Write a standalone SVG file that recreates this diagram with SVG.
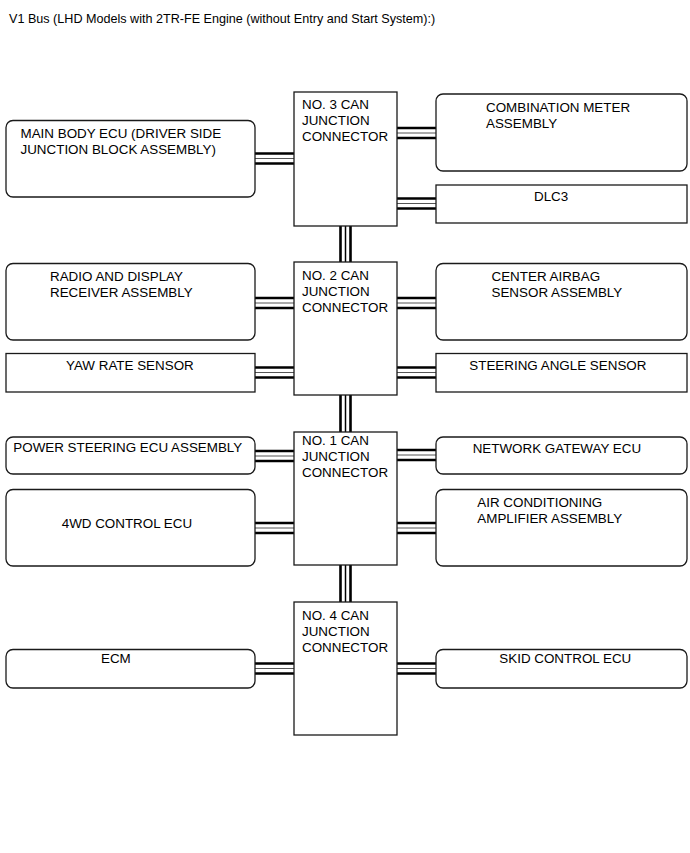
<svg xmlns="http://www.w3.org/2000/svg" width="690" height="853" viewBox="0 0 690 853">
<style>
text{font-family:"Liberation Sans",Arial,sans-serif;font-size:13.4px;fill:#000}
text.title{font-size:12.6px}
.r{fill:#fff;stroke:#1a1a1a;stroke-width:1.3}
.j{fill:#fff;stroke:#1a1a1a;stroke-width:1.3}
.o{stroke:#000;stroke-width:2.6;fill:none}
.m{stroke:#555;stroke-width:1;fill:none}
.mv{stroke:#000;stroke-width:1.5;fill:none}
</style>
<rect width="690" height="853" fill="#fff"/>
<text class="title" x="9" y="23">V1 Bus (LHD Models with 2TR-FE Engine (without Entry and Start System):)</text>

<g id="connectors">
  <g>
    <path class="o" d="M255 153.5H294M255 163.5H294"/><path class="m" d="M255 158.5H294"/>
    <path class="o" d="M255 298H294M255 308H294"/><path class="m" d="M255 303H294"/>
    <path class="o" d="M255 367.5H294M255 377.5H294"/><path class="m" d="M255 372.5H294"/>
    <path class="o" d="M255 451H294M255 461H294"/><path class="m" d="M255 456H294"/>
    <path class="o" d="M255 523H294M255 533H294"/><path class="m" d="M255 528H294"/>
    <path class="o" d="M255 663.5H294M255 673.5H294"/><path class="m" d="M255 668.5H294"/>
  </g>
  <g>
    <path class="o" d="M397 128H436M397 138H436"/><path class="m" d="M397 133H436"/>
    <path class="o" d="M397 198.5H436M397 208.5H436"/><path class="m" d="M397 203.5H436"/>
    <path class="o" d="M397 298H436M397 308H436"/><path class="m" d="M397 303H436"/>
    <path class="o" d="M397 367.5H436M397 377.5H436"/><path class="m" d="M397 372.5H436"/>
    <path class="o" d="M397 450H436M397 460H436"/><path class="m" d="M397 455H436"/>
    <path class="o" d="M397 523H436M397 533H436"/><path class="m" d="M397 528H436"/>
    <path class="o" d="M397 663.5H436M397 673.5H436"/><path class="m" d="M397 668.5H436"/>
  </g>
  <g>
    <path class="o" d="M340.5 226V262M350.5 226V262"/><path class="mv" d="M345.5 226V262"/>
    <path class="o" d="M340.5 395V432M350.5 395V432"/><path class="mv" d="M345.5 395V432"/>
    <path class="o" d="M340.5 565V602M350.5 565V602"/><path class="mv" d="M345.5 565V602"/>
  </g>
</g>

<g id="jc3"><rect class="j" x="294" y="92" width="103" height="134"/>
<text x="302" y="108.5">NO. 3 CAN</text><text x="302" y="124.5">JUNCTION</text><text x="302" y="140.5">CONNECTOR</text></g>
<g id="jc2"><rect class="j" x="294" y="262" width="103" height="133"/>
<text x="302" y="279.5">NO. 2 CAN</text><text x="302" y="295.5">JUNCTION</text><text x="302" y="311.5">CONNECTOR</text></g>
<g id="jc1"><rect class="j" x="294" y="432" width="103" height="133"/>
<text x="302" y="445">NO. 1 CAN</text><text x="302" y="461">JUNCTION</text><text x="302" y="477">CONNECTOR</text></g>
<g id="jc4"><rect class="j" x="294" y="602" width="103" height="133"/>
<text x="302" y="620">NO. 4 CAN</text><text x="302" y="636">JUNCTION</text><text x="302" y="652">CONNECTOR</text></g>

<g id="main-body-ecu"><rect class="r" x="6" y="120.5" width="249" height="76.5" rx="7"/>
<text x="20.5" y="137.5">MAIN BODY ECU (DRIVER SIDE</text><text x="20.5" y="153.5">JUNCTION BLOCK ASSEMBLY)</text></g>
<g id="combination-meter"><rect class="r" x="436" y="94" width="251" height="77" rx="7"/>
<text x="486" y="111.5">COMBINATION METER</text><text x="486" y="127.5">ASSEMBLY</text></g>
<g id="dlc3"><rect class="r" x="436" y="185" width="251" height="38"/>
<text x="534" y="200.7">DLC3</text></g>

<g id="radio"><rect class="r" x="6" y="263.5" width="249" height="76.5" rx="7"/>
<text x="50" y="280.5">RADIO AND DISPLAY</text><text x="50" y="296.5">RECEIVER ASSEMBLY</text></g>
<g id="yaw-rate-sensor"><rect class="r" x="6" y="353.5" width="249" height="38.5"/>
<text x="66" y="370">YAW RATE SENSOR</text></g>
<g id="center-airbag"><rect class="r" x="436" y="263.5" width="251" height="76.5" rx="7"/>
<text x="491.5" y="280.5">CENTER AIRBAG</text><text x="491.5" y="296.5">SENSOR ASSEMBLY</text></g>
<g id="steering-angle-sensor"><rect class="r" x="436" y="353.5" width="251" height="38.5"/>
<text x="469.3" y="370">STEERING ANGLE SENSOR</text></g>

<g id="power-steering-ecu"><rect class="r" x="6" y="437" width="249" height="37" rx="7"/>
<text x="13.3" y="451.7">POWER STEERING ECU ASSEMBLY</text></g>
<g id="4wd-control-ecu"><rect class="r" x="6" y="489.5" width="249" height="76.5" rx="7"/>
<text x="61.7" y="528.3">4WD CONTROL ECU</text></g>
<g id="network-gateway-ecu"><rect class="r" x="436" y="437" width="251" height="37" rx="7"/>
<text x="472.7" y="452.7">NETWORK GATEWAY ECU</text></g>
<g id="air-conditioning-amplifier"><rect class="r" x="436" y="489.5" width="251" height="76.5" rx="7"/>
<text x="477.3" y="506.7">AIR CONDITIONING</text><text x="477.3" y="522.7">AMPLIFIER ASSEMBLY</text></g>

<g id="ecm"><rect class="r" x="6" y="649.5" width="249" height="38.5" rx="7"/>
<text x="101" y="662.7">ECM</text></g>
<g id="skid-control-ecu"><rect class="r" x="436" y="649.5" width="251" height="38.5" rx="7"/>
<text x="499.3" y="662.7">SKID CONTROL ECU</text></g>
</svg>
